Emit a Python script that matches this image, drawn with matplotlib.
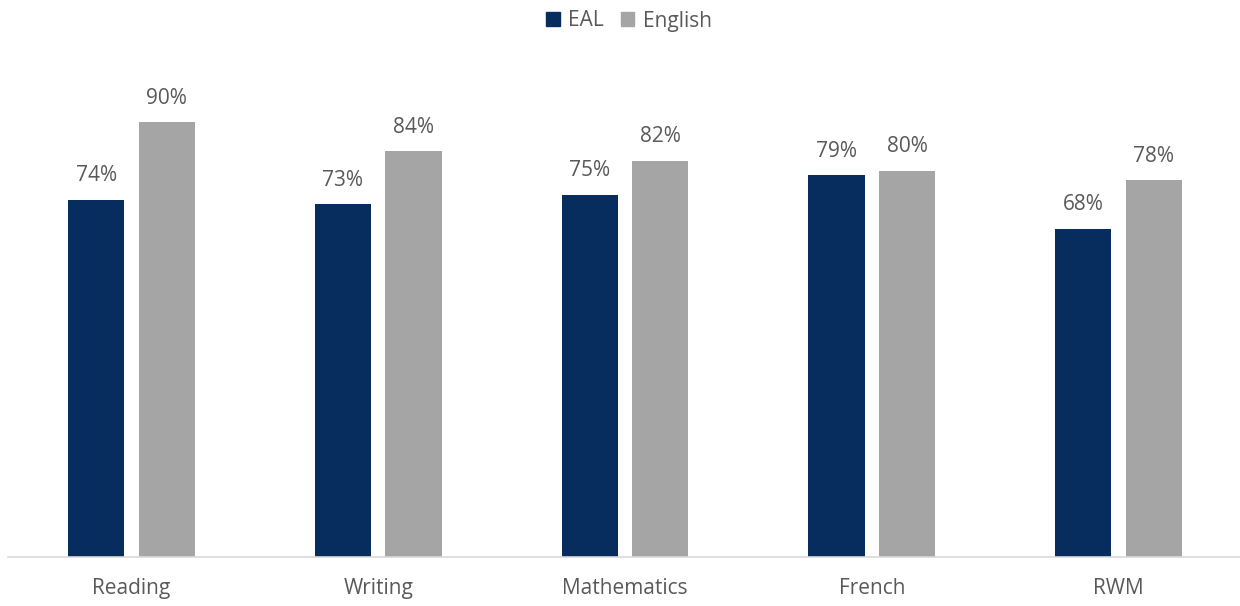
import numpy as np
import matplotlib.pyplot as plt
from matplotlib.patches import Patch

# Data
subjects = ['Reading', 'Writing', 'Mathematics', 'French', 'RWM']
eal = [74, 73, 75, 79, 68]
english = [90, 84, 82, 80, 78]

navy = '#072C5E'
grey = '#A5A5A5'
text_col = '#595959'

plt.rcParams['font.family'] = ['Open Sans', 'DejaVu Sans']

fig = plt.figure(figsize=(12.4, 6.06), dpi=100)
ax = fig.add_axes([8 / 1240, 49 / 606, 1234 / 1240, 483 / 606])

x = np.arange(len(subjects))
w = 0.227
off = 0.143
b1 = ax.bar(x - off, eal, w, color=navy, label='EAL')
b2 = ax.bar(x + off, english, w, color=grey, label='English')

for bars, vals in ((b1, eal), (b2, english)):
    for rect, v in zip(bars, vals):
        ax.annotate(f'{v}%', (rect.get_x() + rect.get_width() / 2, rect.get_height()),
                    xytext=(0, 13.5), textcoords='offset points',
                    ha='center', va='baseline', fontsize=15, color=text_col)

ax.set_xlim(-0.5, len(subjects) - 0.5)
ax.set_ylim(0, 100)
ax.set_xticks(x)
ax.set_xticklabels(subjects, fontsize=15, color=text_col)
ax.tick_params(axis='x', length=0, pad=15)
ax.set_yticks([])
for s in ['top', 'right', 'left']:
    ax.spines[s].set_visible(False)
ax.spines['bottom'].set_color('#D9D9D9')
ax.spines['bottom'].set_linewidth(1.2)

handles = [Patch(color=navy, label='EAL'), Patch(color=grey, label='English')]
fig.legend(handles=handles, loc='center', bbox_to_anchor=(629 / 1240, 1 - 21 / 606),
           ncol=2, frameon=False, fontsize=15, labelcolor=text_col,
           handlelength=0.65, handleheight=0.65, handletextpad=0.4, columnspacing=0.8)

fig.savefig('out.png', dpi=100)
